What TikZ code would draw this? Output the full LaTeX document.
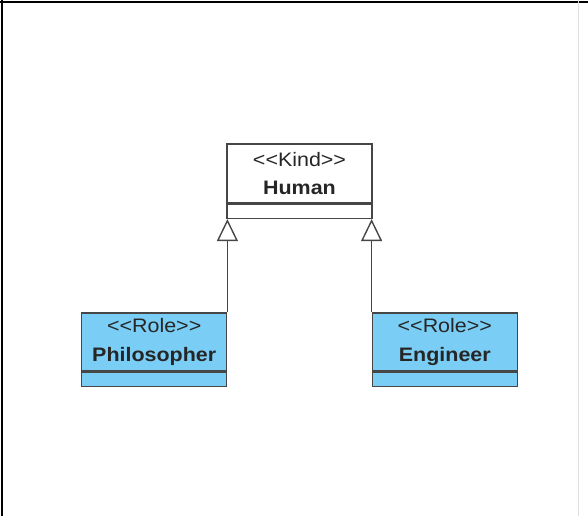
\documentclass[tikz,border=0pt]{standalone}
\usepackage{fontspec}
\setmainfont{Liberation Sans}[FakeStretch=1.1]
\usetikzlibrary{arrows.meta,positioning}
\definecolor{rolefill}{RGB}{122,205,244}
\definecolor{umlline}{RGB}{70,70,70}
\newcommand{\stereo}[1]{<{}<#1>{}>}
\tikzset{
  line cap=round,
  line join=round,
  classbox/.style={draw=umlline, line width=1.4pt, minimum width=145pt, inner sep=0pt,
    align=center, font=\fontsize{19.5}{28.5}\selectfont, text=black!85},
  kindbox/.style={classbox, fill=white, minimum height=59pt},
  rolebox/.style={classbox, fill=rolefill, minimum height=58pt},
  attrbox/.style={draw=umlline, line width=1.4pt, minimum width=145pt, minimum height=14pt, inner sep=0pt},
  gen/.style={-{Triangle[open, length=22pt, width=21pt]}, draw=umlline, line width=1.4pt}
}

\begin{document}
\begin{tikzpicture}[x=1pt,y=1pt]
\useasboundingbox (0,0) rectangle (588,516);

% frame
\draw[line width=2.2pt] (0,514) -- (588,514);
\draw[line width=2.2pt] (2,516) -- (2,0);
\draw[gray!25, line width=0.6pt] (578,516) -- (578,0);

% kind
\node[kindbox] (human) at (299.5,342.5) {\stereo{Kind}\\\textbf{Human}};
\node[attrbox, fill=white, below=0pt of human] (humanattr) {};

% roles
\node[rolebox] (philosopher) at (154.2,174) {\stereo{Role}\\\textbf{Philosopher}};
\node[attrbox, fill=rolefill, below=0pt of philosopher] (philosopherattr) {};
\node[rolebox] (engineer) at (444.8,174) {\stereo{Role}\\\textbf{Engineer}};
\node[attrbox, fill=rolefill, below=0pt of engineer] (engineerattr) {};

% generalizations
\draw[gen] (philosopher.north east) -- (philosopher.north east |- humanattr.south);
\draw[gen] (engineer.north west) -- (engineer.north west |- humanattr.south);

\end{tikzpicture}
\end{document}
